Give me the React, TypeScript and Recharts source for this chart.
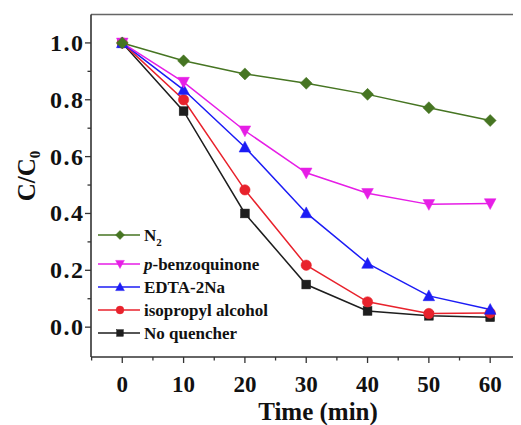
import React from 'react';
import { LineChart, Line, XAxis, YAxis, Legend, ReferenceLine } from 'recharts';

const times = [0, 10, 20, 30, 40, 50, 60];
const noQuencher = [1.0, 0.76, 0.4, 0.15, 0.057, 0.04, 0.035];
const isopropyl = [1.0, 0.8, 0.483, 0.218, 0.089, 0.048, 0.05];
const edta = [1.0, 0.835, 0.633, 0.402, 0.224, 0.11, 0.062];
const benzo = [1.0, 0.862, 0.691, 0.543, 0.471, 0.432, 0.435];
const n2 = [1.0, 0.937, 0.891, 0.858, 0.819, 0.772, 0.727];

const seriesKeys = ['nq', 'ipa', 'edta', 'bq', 'n2'];
const seriesNames = ['No quencher', 'isopropyl alcohol', 'EDTA-2Na', 'p-benzoquinone', 'N2'];
const seriesColors = ['#1e1e1e', '#e8222c', '#1c1cf5', '#e61ee6', '#467522'];
const seriesShapes = ['square', 'circle', 'up', 'down', 'diamond'];
const seriesValues = [noQuencher, isopropyl, edta, benzo, n2];

const xTicks = [-5, 0, 5, 10, 15, 20, 25, 30, 35, 40, 45, 50, 55, 60];
const xMajor = [0, 10, 20, 30, 40, 50, 60];
const yTicks = [0, 0.1, 0.2, 0.3, 0.4, 0.5, 0.6, 0.7, 0.8, 0.9, 1.0];
const yMajor = [0, 0.2, 0.4, 0.6, 0.8, 1.0];

const xDomain = [-5.1, 64.7];
const yDomain = [-0.105, 1.1];

const data = times.map((t, i) => {
  const row: any = { t };
  seriesKeys.forEach((k, j) => {
    row[k] = seriesValues[j][i];
  });
  return row;
});

const FONT = '"Liberation Serif", "Times New Roman", serif';

function Marker({ shape, cx, cy, color, s = 1 }: any) {
  if (cx == null || cy == null) return null;
  switch (shape) {
    case 'diamond': {
      const r = 6 * s;
      return <polygon points={`${cx},${cy - r} ${cx + r},${cy} ${cx},${cy + r} ${cx - r},${cy}`} fill={color} stroke={color} strokeWidth={0.5} />;
    }
    case 'down': {
      const w = 5.8 * s;
      return <polygon points={`${cx - w},${cy - 4.8 * s} ${cx + w},${cy - 4.8 * s} ${cx},${cy + 6 * s}`} fill={color} stroke={color} strokeWidth={0.5} />;
    }
    case 'up': {
      const w = 5.8 * s;
      return <polygon points={`${cx - w},${cy + 4.8 * s} ${cx + w},${cy + 4.8 * s} ${cx},${cy - 6 * s}`} fill={color} stroke={color} strokeWidth={0.5} />;
    }
    case 'circle':
      return <circle cx={cx} cy={cy} r={5.2 * s} fill={color} stroke={color} strokeWidth={0.5} />;
    case 'square': {
      const h = 4.4 * s;
      return <rect x={cx - h} y={cy - h} width={2 * h} height={2 * h} fill={color} stroke={color} strokeWidth={0.5} />;
    }
    default:
      return null;
  }
}

const makeDot = (shape: string, color: string, key: string) => (props: any) => (
  <g key={`${key}-${props.index}`}>
    <Marker shape={shape} cx={props.cx} cy={props.cy} color={color} />
  </g>
);

function XTick(props: any) {
  const { x, y, payload } = props;
  const major = xMajor.includes(payload.value);
  return (
    <g>
      <line x1={x} x2={x} y1={y} y2={y + (major ? 6 : 3.5)} stroke="#333" strokeWidth={1.3} />
      {major && (
        <text x={x} y={y + 35} textAnchor="middle" style={{ fontFamily: FONT, fontWeight: 'bold', fontSize: 23 }} fill="#111">
          {payload.value}
        </text>
      )}
    </g>
  );
}

function YTick(props: any) {
  const { x, y, payload } = props;
  const v = Math.round(payload.value * 10) / 10;
  const major = yMajor.some((m) => Math.abs(m - v) < 1e-6);
  return (
    <g>
      <line x1={x} x2={x - (major ? 6 : 3.5)} y1={y} y2={y} stroke="#333" strokeWidth={1.3} />
      {major && (
        <text x={x - 6.5} y={y + 8} textAnchor="end" style={{ fontFamily: FONT, fontWeight: 'bold', fontSize: 24, letterSpacing: 1.5 }} fill="#111">
          {v.toFixed(1)}
        </text>
      )}
    </g>
  );
}

function renderName(name: string) {
  if (name === 'N2') {
    return (
      <>
        N<tspan style={{ fontSize: 11 }} dy={5}>2</tspan>
      </>
    );
  }
  if (name.startsWith('p-')) {
    return (
      <>
        <tspan style={{ fontStyle: 'italic' }}>p</tspan>
        {name.slice(1)}
      </>
    );
  }
  return name;
}

function LegendContent(props: any) {
  const items = [...(props.payload || [])].sort(
    (a: any, b: any) => seriesKeys.indexOf(b.dataKey) - seriesKeys.indexOf(a.dataKey)
  );
  return (
    <svg width={200} height={125} style={{ display: 'block', overflow: 'visible' }}>
      {items.map((entry: any, i: number) => {
        const idx = seriesKeys.indexOf(entry.dataKey);
        const y = 12 + (i > 0 ? 6 : 0) + i * 23;
        const color = seriesColors[idx];
        return (
          <g key={entry.dataKey}>
            <line x1={2} x2={44} y1={y} y2={y} stroke={color} strokeWidth={1.5} />
            <Marker shape={seriesShapes[idx]} cx={24} cy={y} color={color} s={0.75} />
            <text x={48} y={y + 6} style={{ fontFamily: FONT, fontWeight: 'bold', fontSize: 17 }} fill="#111">
              {renderName(seriesNames[idx])}
            </text>
          </g>
        );
      })}
    </svg>
  );
}

export default function App() {
  return (
    <div style={{ width: 513, height: 417, background: '#fff' }}>
      <LineChart width={513} height={417} data={data} margin={{ top: 6.5, right: 2, left: 0, bottom: 0 }}>
        <XAxis
          dataKey="t"
          type="number"
          domain={xDomain}
          allowDataOverflow
          ticks={xTicks}
          interval={0}
          height={68}
          tickSize={0}
          tickMargin={0}
          tickLine={false}
          axisLine={{ stroke: '#333', strokeWidth: 1.6 }}
          tick={<XTick />}
        />
        <YAxis
          type="number"
          domain={yDomain}
          allowDataOverflow
          ticks={yTicks}
          interval={0}
          width={83}
          tickSize={0}
          tickMargin={0}
          tickLine={false}
          axisLine={{ stroke: '#333', strokeWidth: 1.6 }}
          tick={<YTick />}
        />
        <ReferenceLine y={yDomain[1]} stroke="#666" strokeWidth={1.6} />
        <ReferenceLine x={xDomain[1]} stroke="#999" strokeWidth={1.6} />
        {seriesKeys.map((k, j) => (
          <Line
            key={k}
            dataKey={k}
            name={seriesNames[j]}
            type="linear"
            stroke={seriesColors[j]}
            strokeWidth={1.5}
            dot={makeDot(seriesShapes[j], seriesColors[j], k)}
            activeDot={false}
            isAnimationActive={false}
          />
        ))}
        <Legend
          layout="horizontal"
          verticalAlign="middle"
          align="center"
          content={<LegendContent />}
          wrapperStyle={{ position: 'absolute', left: 88, top: 215, width: 200, height: 125 }}
        />
        <text x={310} y={411.5} textAnchor="middle" style={{ fontFamily: FONT, fontWeight: 'bold', fontSize: 25 }} fill="#111">
          Time (min)
        </text>
        <text x={27} y={168} transform="rotate(-90 27 168)" textAnchor="middle" style={{ fontFamily: FONT, fontWeight: 'bold', fontSize: 25 }} fill="#111">
          C/C<tspan style={{ fontSize: 15 }} dy={5}>0</tspan>
        </text>
      </LineChart>
    </div>
  );
}
